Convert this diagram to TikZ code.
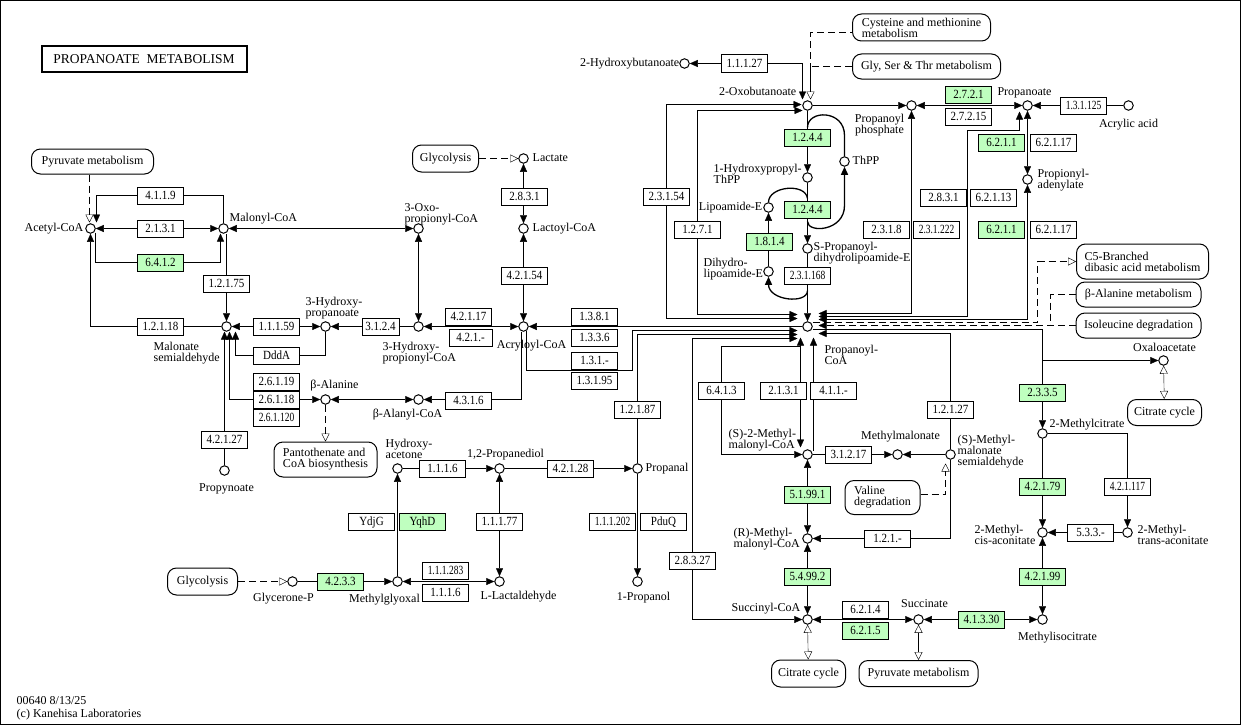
\documentclass[tikz,border=0pt]{standalone}
\usepackage{fontspec}
\usepackage{graphicx}
\setmainfont{Liberation Serif}
\newfontfamily\ecfont[FakeStretch=0.88]{Liberation Serif}
\usetikzlibrary{arrows.meta,calc,backgrounds}
\definecolor{kgreen}{HTML}{BFFFBF}
\newcommand\sq[1]{\scalebox{0.86}[1]{#1}}
\tikzset{
  otri/.tip={Triangle[open,length=8pt,width=8pt]},
  >={Triangle[length=8pt,width=7pt]},
  cpd/.style={circle,draw,fill=white,line width=1pt,minimum size=9.5pt,inner sep=0pt},
  ec/.style={draw,fill=white,line width=1pt,minimum width=46pt,minimum height=17pt,inner sep=0pt,font=\ecfont\fontsize{12.5}{13}\selectfont,text height=8.6pt,text depth=1.5pt},
  gec/.style={ec,fill=kgreen},
  mapb/.style={draw,fill=white,rounded corners=9pt,line width=1pt,inner sep=0pt,align=center,font=\fontsize{12}{11}\selectfont},
  lbl/.style={inner sep=0pt,font=\fontsize{12}{11}\selectfont,text height=8pt,text depth=2.5pt},
  ml/.style={inner sep=0pt,font=\fontsize{12}{11}\selectfont,align=left},
  ln/.style={line width=1pt},
  arc/.style={line width=1.3pt},
  rc/.style={sharp corners},
  kdash/.style={dash pattern=on 7pt off 4pt}
}
\begin{document}
\begin{tikzpicture}[x=1pt,y=-1pt]
\useasboundingbox (0,0) rectangle (1244,725);
\begin{scope}[shift={(0.5,0.5)}]
\draw[line width=1pt] (0,0) rectangle (1240,723.5);
\node[draw,line width=2pt,minimum width=205pt,minimum height=25pt,inner sep=0pt,font=\fontsize{13.5}{14}\selectfont] (title) at (143.5,58.5) {PROPANOATE\ \ METABOLISM};

% compounds
\node[cpd] (acetyl) at (90,228) {};
\node[cpd] (malonyl) at (223,228) {};
\node[cpd] (oxoprop) at (418,228) {};
\node[cpd] (msa) at (226,326) {};
\node[cpd] (hppa) at (325,326) {};
\node[cpd] (hpcoa) at (418,326) {};
\node[cpd] (acrcoa) at (523,326) {};
\node[cpd] (lactate) at (523,158) {};
\node[cpd] (lactoyl) at (523,228) {};
\node[cpd] (balanine) at (325,399) {};
\node[cpd] (balcoa) at (418,399) {};
\node[cpd] (propynoate) at (224,470) {};
\node[cpd] (hydroxyacetone) at (397,468) {};
\node[cpd] (propanediol) at (499,468) {};
\node[cpd] (propanal) at (637,468) {};
\node[cpd] (propanol) at (637,581) {};
\node[cpd] (mgo) at (397,581) {};
\node[cpd] (lact) at (499,581) {};
\node[cpd] (glyp) at (292,581) {};
\node[cpd] (hbut) at (684,63) {};
\node[cpd] (oxobut) at (807,105) {};
\node[cpd] (hpthpp) at (807,177) {};
\node[cpd] (thpp) at (844,161) {};
\node[cpd] (lipo) at (768,207) {};
\node[cpd] (dhlipo) at (768,271) {};
\node[cpd] (spdl) at (807,248) {};
\node[cpd] (ppcoa) at (807,326) {};
\node[cpd] (pphos) at (911,105) {};
\node[cpd] (propanoate) at (1027,105) {};
\node[cpd] (acrylic) at (1128,105) {};
\node[cpd] (padenyl) at (1027,179) {};
\node[cpd] (oaa) at (1163,360) {};
\node[cpd] (mcit) at (1042,433) {};
\node[cpd] (mcis) at (1042,532) {};
\node[cpd] (mtrans) at (1127,532) {};
\node[cpd] (micit) at (1042,619) {};
\node[cpd] (succ) at (918,619) {};
\node[cpd] (succoa) at (807,619) {};
\node[cpd] (rmm) at (807,538) {};
\node[cpd] (smm) at (807,454) {};
\node[cpd] (mma) at (897,454) {};
\node[cpd] (smmsa) at (950,454) {};

% enzymes
\node[ec] (e4119) at (160,195) {4.1.1.9};
\node[ec] (e2131a) at (160,228) {2.1.3.1};
\node[gec] (e6412) at (160,262) {6.4.1.2};
\node[ec] (e12175) at (226,283) {1.2.1.75};
\node[ec] (e12118) at (160,326) {1.2.1.18};
\node[ec] (e11159) at (276,326) {1.1.1.59};
\node[ec] (edddA) at (276,355) {DddA};
\node[ec] (e2619) at (276,381) {2.6.1.19};
\node[ec] (e2618) at (276,399) {2.6.1.18};
\node[ec] (e26120) at (276,417) {\sq{2.6.1.120}};
\node[ec] (e42127) at (224,439) {4.2.1.27};
\node[ec,minimum width=37pt] (e3124) at (380,326) {3.1.2.4};
\node[ec] (e42117) at (468,316) {4.2.1.17};
\node[ec,minimum width=43pt] (e421x) at (470,337) {4.2.1.-};
\node[ec] (e42154) at (524,275) {4.2.1.54};
\node[ec] (e2831a) at (524,196) {2.8.3.1};
\node[ec] (e4316) at (468,400) {4.3.1.6};
\node[ec] (e1381) at (594,316) {1.3.8.1};
\node[ec] (e1336) at (594,337) {1.3.3.6};
\node[ec] (e131x) at (594,360) {1.3.1.-};
\node[ec] (e13195) at (594,380) {1.3.1.95};
\node[ec] (e12187) at (637,409) {1.2.1.87};
\node[ec] (e11127) at (744,63) {1.1.1.27};
\node[ec] (e23154) at (666,196) {2.3.1.54};
\node[ec] (e1271) at (697,229) {1.2.7.1};
\node[gec] (e1244a) at (807,137) {1.2.4.4};
\node[gec] (e1244b) at (807,209) {1.2.4.4};
\node[gec] (e1814) at (769,241) {1.8.1.4};
\node[ec] (e231168) at (807,275) {\sq{2.3.1.168}};
\node[gec] (e2721) at (968,94) {2.7.2.1};
\node[ec] (e27215) at (968,116) {2.7.2.15};
\node[ec] (e131125) at (1083,105) {\sq{1.3.1.125}};
\node[gec] (e6211a) at (1001,142) {6.2.1.1};
\node[ec] (e62117a) at (1053,142) {6.2.1.17};
\node[ec] (e2831b) at (943,197) {2.8.3.1};
\node[ec] (e62113) at (993,197) {6.2.1.13};
\node[ec] (e2318) at (886,229) {2.3.1.8};
\node[ec] (e231222) at (936,229) {\sq{2.3.1.222}};
\node[gec] (e6211b) at (1001,229) {6.2.1.1};
\node[ec] (e62117b) at (1053,229) {6.2.1.17};
\node[ec] (e6413) at (721,390) {6.4.1.3};
\node[ec] (e2131b) at (783,390) {2.1.3.1};
\node[ec] (e411x) at (833,390) {4.1.1.-};
\node[ec] (e12127) at (950,409) {1.2.1.27};
\node[ec] (e31217) at (848,454) {3.1.2.17};
\node[gec] (e51991) at (807,494) {5.1.99.1};
\node[ec] (e121x) at (887,538) {1.2.1.-};
\node[gec] (e54992) at (807,576) {5.4.99.2};
\node[ec] (e6214) at (865,609) {6.2.1.4};
\node[gec] (e6215) at (865,630) {6.2.1.5};
\node[gec] (e41330) at (981,619) {4.1.3.30};
\node[gec] (e2335) at (1042,392) {2.3.3.5};
\node[gec] (e42179) at (1042,486) {4.2.1.79};
\node[ec] (e421117) at (1127,486) {\sq{4.2.1.117}};
\node[ec] (e533x) at (1090,532) {5.3.3.-};
\node[gec] (e42199) at (1042,576) {4.2.1.99};
\node[ec] (e283827) at (692,560) {2.8.3.27};
\node[ec] (e1116a) at (442,468) {1.1.1.6};
\node[ec] (e42128) at (570,468) {4.2.1.28};
\node[ec] (e111202) at (612,521) {\sq{1.1.1.202}};
\node[ec] (epduq) at (663,521) {PduQ};
\node[ec] (e11177) at (499,521) {1.1.1.77};
\node[ec] (eydjg) at (371,521) {YdjG};
\node[gec] (eyqhd) at (422,521) {YqhD};
\node[ec] (e111283) at (445,570) {\sq{1.1.1.283}};
\node[ec] (e1116b) at (445,592) {1.1.1.6};
\node[gec] (e4233) at (340,581) {4.2.3.3};

% map boxes
\node[mapb,minimum width=122pt,minimum height=25pt] (pyrmet) at (92,161) {Pyruvate metabolism};
\node[mapb,minimum width=66pt,minimum height=27pt] (glyco1) at (445,158) {Glycolysis};
\node[mapb,align=left,minimum width=103pt,minimum height=35pt] (panto) at (325,459) {Pantothenate and\\CoA biosynthesis};
\node[mapb,minimum width=70pt,minimum height=27pt] (glyco2) at (202,581) {Glycolysis};
\node[mapb,align=left,minimum width=138pt,minimum height=27pt] (cysmet) at (921,27) {Cysteine and methionine\\metabolism};
\node[mapb,minimum width=148pt,minimum height=25pt] (glyser) at (926,66) {Gly, Ser \& Thr metabolism};
\node[mapb,align=left,minimum width=132pt,minimum height=35pt] (c5) at (1142,261) {C5-Branched\\dibasic acid metabolism};
\node[mapb,minimum width=125pt,minimum height=25pt] (balmet) at (1138,294) {β-Alanine metabolism};
\node[mapb,minimum width=125pt,minimum height=25pt] (iledeg) at (1138,325) {Isoleucine degradation};
\node[mapb,minimum width=74pt,minimum height=26pt] (citrate1) at (1164,412) {Citrate cycle};
\node[mapb,align=left,minimum width=75pt,minimum height=34pt] (valdeg) at (882,497) {Valine\\degradation};
\node[mapb,minimum width=74pt,minimum height=27pt] (citrate2) at (808,673) {Citrate cycle};
\node[mapb,minimum width=119pt,minimum height=26pt] (pyrmet2) at (918,673) {Pyruvate metabolism};

% coordinates
\coordinate (ppL1) at (797,314);
\coordinate (ppL2) at (797,318);
\coordinate (ppL3) at (797,330);
\coordinate (ppL4) at (797,334);
\coordinate (ppL5) at (797,338);
\coordinate (ppR1) at (818,313);
\coordinate (ppR2) at (818,316);
\coordinate (ppR3) at (818,319);
\coordinate (ppR4) at (812,322);
\coordinate (ppR5) at (818,325);
\coordinate (ppR6) at (812,329);
\coordinate (ppR7) at (818,333);
\coordinate (ppB1) at (800,337);
\coordinate (ppB2) at (813,337);
\coordinate (j641) at (800,346);
\coordinate (smmT1) at (800,447);
\coordinate (smmT2) at (813,450);
\coordinate (acT1) at (89,222);
\coordinate (acT2) at (96,222);
\coordinate (acB2) at (95,232);
\coordinate (maB1) at (220,233);
\coordinate (msaB1) at (224,331);
\coordinate (msaB2) at (229,331);
\coordinate (msaB3) at (235,331);
\coordinate (acrB1) at (521,331);
\coordinate (acrB2) at (526,330);
\coordinate (acrC) at (632,370);
\coordinate (oxbT1) at (802,99);
\coordinate (oxbT2) at (810,99);
\coordinate (oxbL1) at (801,104);
\coordinate (oxbL2) at (802,110);
\coordinate (thA) at (807,127);
\coordinate (thB) at (844,135);
\coordinate (thC) at (844,205);
\coordinate (thD) at (807,221);
\coordinate (lipB) at (807,198);
\coordinate (dlB) at (807,290);
\coordinate (prT) at (1019,111);
\coordinate (prC) at (967,130);
\coordinate (c5C) at (1037,261);
\coordinate (balJ) at (1050,325);
\coordinate (oaJ) at (1042,380);
\coordinate (vtip) at (945,463);

\begin{scope}[on background layer,ln]
\draw[kdash,-{otri}] (pyrmet.south -| acT1) -- (acT1);
\draw[->,rc] (malonyl.north) |- (e4119.center) -| (acT2);
\draw[<->] (acetyl) -- (malonyl);
\draw[->,rc] (acB2) |- (e6412.center) -| (maB1);
\draw[->,rc] (msa) -| (acetyl);
\draw[<->] (malonyl) -- (oxoprop);
\draw[->] (malonyl.south -| msa) -- (msa);
\draw[<->] (oxoprop) -- (hpcoa);
\draw[->] (hpcoa) -- (hppa);
\draw[<->] (msa) -- (hppa);
\draw[->,rc] (hppa) |- (edddA.center) -| (msaB3);
\draw[<->,rc] (msaB2) |- (balanine);
\draw[->] (propynoate) -- (msaB1);
\draw[<->] (balanine) -- (balcoa);
\draw[kdash,-{otri}] (balanine) -- (panto);
\draw[->,rc] (acrB1) |- (balcoa);
\draw[<->] (hpcoa) -- (acrcoa);
\draw[<->] (lactate) -- (lactoyl);
\draw[<->] (lactoyl) -- (acrcoa);
\draw[kdash,-{otri}] (glyco1) -- (lactate);
\draw[->] (ppcoa) -- (acrcoa);
\draw[->,rc] (acrB2) |- (acrC) |- (ppL3);
\draw[->,rc] (propanal) |- (ppL4);
\draw[<->,rc] (ppL5) -| (e283827.center) |- (succoa);
\draw[<->,rc] (ppL2) -| (e23154.center) |- (oxbL1);
\draw[<->,rc] (ppL1) -| (e1271.center) |- (oxbL2);
\draw[<->,rc] (hbut) -| (oxbT1);
\draw[kdash,{otri}-,rc] (oxbT2) |- ($(cysmet.west)+(0,5)$);
\draw[kdash,rc] (glyser.west) -| ($(oxbT2)+(0,-14)$);
\draw[->] (oxobut) -- (pphos);
\draw[->] (oxobut) -- (hpthpp);
\draw[->] (hpthpp) -- (spdl);
\draw[->] (spdl) -- (ppcoa);
\draw[arc] (thA) .. controls ($(thA)+(0,-18)$) and ($(thB)+(0,-26)$) .. (thB) -- (thpp);
\draw[arc,<-] (thpp) -- (thC) .. controls ($(thC)+(0,26)$) and ($(thD)+(0,12)$) .. (thD);
\draw[arc] (lipo.north) .. controls ($(lipo.north)+(0,-16)$) and ($(lipB)+(-2,-16)$) .. (lipB);
\draw[arc,<-] (dhlipo.south) .. controls ($(dhlipo.south)+(0,24)$) and ($(dlB)+(0,14)$) .. (dlB);
\draw[->] (dhlipo) -- (lipo);
\draw[<->] (pphos) -- (propanoate);
\draw[->] (acrylic) -- (propanoate);
\draw[<->] (propanoate) -- (padenyl);
\draw[<->,rc] (padenyl) |- (ppR3);
\draw[<->,rc] (pphos) |- (ppR1);
\draw[<->,rc] (prT) |- (prC) |- (ppR2);
\draw[kdash,-{otri},rc] (ppR4) -| (c5C) -- (c5.west);
\draw[kdash,->] (iledeg) -- (ppR5);
\draw[kdash,rc] (balmet) -| (balJ);
\draw[->,rc] (ppR6) -| (mcit);
\draw[->,rc] (oaJ) |- (oaa);
\draw[{otri}-{otri}] (oaa) -- (citrate1);
\draw[->,rc] (mcit) -| (mtrans);
\draw[->] (mcit) -- (mcis);
\draw[->] (mtrans) -- (mcis);
\draw[<->] (mcis) -- (micit);
\draw[<->] (micit) -- (succ);
\draw[{otri}-{otri}] (succ) -- (pyrmet2);
\draw[<->] (succoa) -- (succ);
\draw[{otri}-{otri}] (succoa) -- (citrate2);
\draw[<->] (rmm) -- (succoa);
\draw[<->] (smm) -- (rmm);
\draw[->] (smm) -- (mma);
\draw[->] (smmsa) -- (mma);
\draw[->,rc] (smmsa) |- (rmm);
\draw[kdash,-{otri},rc] ($(valdeg.east)+(0,-3)$) -| (vtip);
\draw[->,rc] (smmsa) |- (ppR7);
\draw[<->] (ppB1) -- (smmT1);
\draw[->] (smmT2) -- (ppB2);
\draw[->,rc] (j641) -| (e6413.center) |- (smm);
\draw[->] (hydroxyacetone) -- (propanediol);
\draw[->] (propanediol) -- (propanal);
\draw[->] (propanal) -- (propanol);
\draw[->] (mgo) -- (hydroxyacetone);
\draw[<->] (mgo) -- (lact);
\draw[<->] (lact) -- (propanediol);
\draw[->] (glyp) -- (mgo);
\draw[kdash,-{otri}] (glyco2) -- (glyp);
\end{scope}

% labels
\node[lbl,anchor=east] (acetylL) at (83,228) {Acetyl-CoA};
\node[lbl,anchor=west] (malonylL) at (229,218) {Malonyl-CoA};
\node[ml,anchor=north west] (oxopropL) at (404,203) {3-Oxo-\\propionyl-CoA};
\node[ml,anchor=north west] (msaL) at (153,341) {Malonate\\semialdehyde};
\node[ml,anchor=north west] (hppaL) at (305,296) {3-Hydroxy-\\propanoate};
\node[ml,anchor=north west] (hpcoaL) at (382,341) {3-Hydroxy-\\propionyl-CoA};
\node[lbl] (acrcoaL) at (531,345) {Acryloyl-CoA};
\node[lbl,anchor=west] (lactateL) at (532,158) {Lactate};
\node[lbl,anchor=west] (lactoylL) at (532,228) {Lactoyl-CoA};
\node[lbl] (balanineL) at (334,385) {β-Alanine};
\node[lbl] (balcoaL) at (407,414) {β-Alanyl-CoA};
\node[lbl] (propynoateL) at (226,488) {Propynoate};
\node[ml,anchor=north west] (hydroxyacetoneL) at (385,438) {Hydroxy-\\acetone};
\node[lbl] (propanediolL) at (505,454) {1,2-Propanediol};
\node[lbl,anchor=west] (propanalL) at (645,468) {Propanal};
\node[lbl] (propanolL) at (643,597) {1-Propanol};
\node[lbl] (mgoL) at (384,599) {Methylglyoxal};
\node[lbl] (lactL) at (518,596) {L-Lactaldehyde};
\node[lbl] (glypL) at (283,598) {Glycerone-P};
\node[lbl,anchor=east] (hbutL) at (679,63) {2-Hydroxybutanoate};
\node[lbl,anchor=east] (oxobutL) at (796,92) {2-Oxobutanoate};
\node[ml,anchor=north west] (hpthppL) at (713,163) {1-Hydroxypropyl-\\ThPP};
\node[lbl,anchor=west] (thppL) at (852,161) {ThPP};
\node[lbl,anchor=east] (lipoL) at (762,207) {Lipoamide-E};
\node[ml,anchor=north west] (dhlipoL) at (703,257) {Dihydro-\\lipoamide-E};
\node[ml,anchor=north west] (spdlL) at (813,241) {S-Propanoyl-\\dihydrolipoamide-E};
\node[ml,anchor=north west] (ppcoaL) at (824,344) {Propanoyl-\\CoA};
\node[ml,anchor=north,align=center] (pphosL) at (879,113) {Propanoyl\\phosphate};
\node[lbl] (propanoateL) at (1024,92) {Propanoate};
\node[lbl] (acrylicL) at (1128,124) {Acrylic acid};
\node[ml,anchor=north west] (padenylL) at (1037,168) {Propionyl-\\adenylate};
\node[lbl] (oaaL) at (1164,348) {Oxaloacetate};
\node[lbl,anchor=west] (mcitL) at (1049,424) {2-Methylcitrate};
\node[ml,anchor=north west] (mcisL) at (974,524) {2-Methyl-\\cis-aconitate};
\node[ml,anchor=north west] (mtransL) at (1137,524) {2-Methyl-\\trans-aconitate};
\node[lbl] (micitL) at (1057,637) {Methylisocitrate};
\node[lbl] (succL) at (924,604) {Succinate};
\node[lbl,anchor=east] (succoaL) at (800,608) {Succinyl-CoA};
\node[ml,anchor=north west] (rmmL) at (733,527) {(R)-Methyl-\\malonyl-CoA};
\node[ml,anchor=north west] (smmL) at (728,428) {(S)-2-Methyl-\\malonyl-CoA};
\node[lbl] (mmaL) at (900,436) {Methylmalonate};
\node[ml,anchor=north west] (smmsaL) at (957,434) {(S)-Methyl-\\malonate\\semialdehyde};
\node[ml,anchor=north west,font=\fontsize{12}{12.5}\selectfont] (footer) at (16,696) {00640 8/13/25\\(c) Kanehisa Laboratories};
\end{scope}
\end{tikzpicture}
\end{document}
